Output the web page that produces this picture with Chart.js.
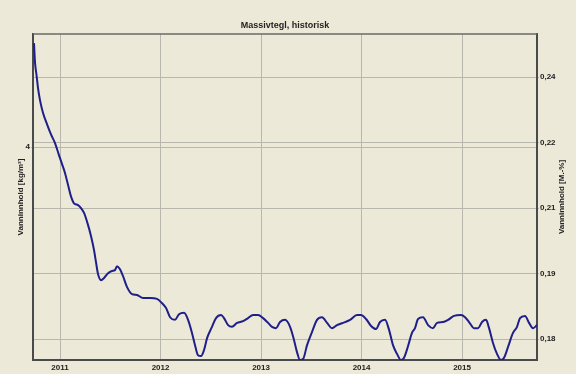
<!DOCTYPE html>
<html>
<head>
<meta charset="utf-8">
<title>Massivtegl, historisk</title>
<script src="https://cdn.jsdelivr.net/npm/chart.js@4.4.1/dist/chart.umd.min.js"></script>
<style>
    html, body { margin: 0; padding: 0; background: #ECE9D8; }
    #wrap { width: 576px; height: 374px; position: relative; }
</style>
</head>
<body>
<div id="wrap"><canvas id="moisture-chart"></canvas></div>
<script>
// Time in decimal years, moisture content in mass-%
const timeAxis = [
    2010.741, 2010.751, 2010.766, 2010.781, 2010.801, 2010.831, 2010.871, 2010.910, 2010.950, 2010.990,
    2011.020, 2011.050, 2011.080, 2011.109, 2011.139, 2011.179, 2011.209, 2011.239, 2011.279, 2011.308,
    2011.338, 2011.358, 2011.378, 2011.408, 2011.438, 2011.478, 2011.517, 2011.547, 2011.567, 2011.597,
    2011.627, 2011.667, 2011.716, 2011.766, 2011.826, 2011.896, 2011.965, 2012.015, 2012.055, 2012.095,
    2012.144, 2012.184, 2012.234, 2012.274, 2012.313, 2012.343, 2012.373, 2012.403, 2012.433, 2012.463,
    2012.512, 2012.552, 2012.602, 2012.632, 2012.672, 2012.711, 2012.761, 2012.821, 2012.871, 2012.920,
    2012.970, 2013.020, 2013.070, 2013.109, 2013.149, 2013.189, 2013.239, 2013.289, 2013.328, 2013.358,
    2013.388, 2013.418, 2013.458, 2013.507, 2013.557, 2013.607, 2013.657, 2013.706, 2013.756, 2013.816,
    2013.886, 2013.955, 2013.995, 2014.045, 2014.095, 2014.144, 2014.184, 2014.234, 2014.274, 2014.313,
    2014.353, 2014.393, 2014.423, 2014.463, 2014.502, 2014.532, 2014.562, 2014.612, 2014.662, 2014.711,
    2014.751, 2014.811, 2014.861, 2014.920, 2014.990, 2015.030, 2015.070, 2015.119, 2015.159, 2015.199,
    2015.239, 2015.269, 2015.308, 2015.348, 2015.388, 2015.418, 2015.458, 2015.507, 2015.547, 2015.577,
    2015.627, 2015.667, 2015.706, 2015.746
];

const moisture = [
    0.2503, 0.2459, 0.2430, 0.2400, 0.2372, 0.2343, 0.2317, 0.2294, 0.2274, 0.2246,
    0.2226, 0.2205, 0.2178, 0.2152, 0.2136, 0.2132, 0.2125, 0.2114, 0.2086, 0.2061,
    0.2029, 0.2001, 0.1974, 0.1960, 0.1965, 0.1976, 0.1981, 0.1983, 0.1992, 0.1985,
    0.1969, 0.1944, 0.1928, 0.1926, 0.1919, 0.1919, 0.1917, 0.1907, 0.1896, 0.1875,
    0.1869, 0.1882, 0.1885, 0.1869, 0.1839, 0.1811, 0.1788, 0.1786, 0.1800, 0.1827,
    0.1853, 0.1873, 0.1880, 0.1873, 0.1857, 0.1853, 0.1862, 0.1866, 0.1873, 0.1880,
    0.1880, 0.1873, 0.1862, 0.1853, 0.1850, 0.1864, 0.1869, 0.1853, 0.1823, 0.1795,
    0.1777, 0.1779, 0.1811, 0.1841, 0.1869, 0.1875, 0.1862, 0.1850, 0.1857, 0.1862,
    0.1869, 0.1880, 0.1880, 0.1871, 0.1855, 0.1848, 0.1864, 0.1869, 0.1846, 0.1811,
    0.1791, 0.1777, 0.1782, 0.1809, 0.1839, 0.1850, 0.1871, 0.1875, 0.1857, 0.1850,
    0.1862, 0.1864, 0.1869, 0.1878, 0.1880, 0.1875, 0.1864, 0.1850, 0.1850, 0.1864,
    0.1869, 0.1850, 0.1816, 0.1791, 0.1777, 0.1782, 0.1807, 0.1839, 0.1853, 0.1873,
    0.1878, 0.1862, 0.1850, 0.1857
];

const yearTicks = [2011, 2012, 2013, 2014, 2015];
const timeRange = [2010.731, 2015.746];

// Right axis: mass-%, labels are truncated to two decimals
const massTickValues = [0.1825, 0.1975, 0.2125, 0.2275, 0.2425];
const massTickLabels = ['0,18', '0,19', '0,21', '0,22', '0,24'];
const massRange = [0.1777, 0.2524];

// Left axis: kg/m3
const volumeTickValues = [4];
const volumeTickLabels = ['4'];
const kgPerMassPercent = 17.66;

const colors = {
    background: '#ECE9D8',
    line: '#1f1f8a',
    grid: '#b8b7ad',
    axis: '#4a4a4a',
    text: '#222222'
};

const tickFont = { family: 'Liberation Sans', size: 8, weight: 'bold' };

// Plot area edges in canvas pixels
const plotBox = { left: 33, top: 34, right: 537, bottom: 360 };

const backgroundPlugin = {
    id: 'background',
    beforeDraw(chart) {
        const ctx = chart.ctx;
        ctx.save();
        ctx.fillStyle = colors.background;
        ctx.fillRect(0, 0, chart.width, chart.height);
        ctx.restore();
    }
};

// Title, both rotated axis titles and the top frame line
const framePlugin = {
    id: 'frame',
    afterDraw(chart) {
        const ctx = chart.ctx;
        const area = chart.chartArea;
        const midY = (area.top + area.bottom) / 2;
        ctx.save();
        ctx.fillStyle = colors.text;
        ctx.textAlign = 'center';
        ctx.textBaseline = 'middle';

        ctx.font = 'bold 9px "Liberation Sans"';
        ctx.fillText('Massivtegl, historisk', (area.left + area.right) / 2, 26);

        ctx.font = 'bold 8px "Liberation Sans"';
        ctx.translate(21, midY);
        ctx.rotate(-Math.PI / 2);
        ctx.fillText('Vanninnhold [kg/m³]', 0, 0);
        ctx.setTransform(1, 0, 0, 1, 0, 0);

        ctx.translate(562, midY);
        ctx.rotate(-Math.PI / 2);
        ctx.fillText('Vanninnhold [M.-%]', 0, 0);
        ctx.setTransform(1, 0, 0, 1, 0, 0);

        ctx.strokeStyle = '#6a6a6a';
        ctx.lineWidth = 1.5;
        ctx.beginPath();
        ctx.moveTo(area.left, area.top);
        ctx.lineTo(area.right, area.top);
        ctx.stroke();
        ctx.restore();
    }
};

function fixedTicks(values) {
    return function(scale) {
        scale.ticks = values.map(v => ({ value: v }));
    };
}

function createMoistureChart(ctx) {
    return new Chart(ctx, {
        type: 'line',
        data: {
            datasets: [{
                label: 'Vanninnhold',
                data: timeAxis.map((t, i) => ({ x: t, y: moisture[i] })),
                yAxisID: 'y',
                borderColor: colors.line,
                borderWidth: 2,
                pointRadius: 0,
                cubicInterpolationMode: 'monotone',
                fill: false
            }]
        },
        options: {
            responsive: true,
            maintainAspectRatio: false,
            animation: false,
            layout: {
                padding: { top: plotBox.top, left: 0, right: 0, bottom: 0 }
            },
            plugins: {
                legend: { display: false },
                tooltip: { enabled: false }
            },
            scales: {
                x: {
                    type: 'linear',
                    min: timeRange[0],
                    max: timeRange[1],
                    afterBuildTicks: fixedTicks(yearTicks),
                    afterFit(scale) { scale.height = 374 - plotBox.bottom; },
                    border: { color: colors.axis, width: 2 },
                    grid: { color: colors.grid, lineWidth: 1, drawTicks: false },
                    ticks: {
                        color: colors.text,
                        font: tickFont,
                        padding: 3,
                        maxRotation: 0,
                        callback: value => String(value)
                    }
                },
                yLeft: {
                    type: 'linear',
                    position: 'left',
                    min: massRange[0] * kgPerMassPercent,
                    max: massRange[1] * kgPerMassPercent,
                    afterBuildTicks: fixedTicks(volumeTickValues),
                    afterFit(scale) { scale.width = plotBox.left; },
                    border: { color: colors.axis, width: 2 },
                    grid: { color: colors.grid, lineWidth: 1, tickLength: 2 },
                    ticks: {
                        color: colors.text,
                        font: tickFont,
                        padding: 1,
                        callback: (value, index) => volumeTickLabels[index]
                    }
                },
                y: {
                    type: 'linear',
                    position: 'right',
                    min: massRange[0],
                    max: massRange[1],
                    afterBuildTicks: fixedTicks(massTickValues),
                    afterFit(scale) { scale.width = 576 - plotBox.right; },
                    border: { color: colors.axis, width: 2 },
                    grid: { color: colors.grid, lineWidth: 1, tickLength: 2 },
                    ticks: {
                        color: colors.text,
                        font: tickFont,
                        padding: 1,
                        callback: (value, index) => massTickLabels[index]
                    }
                }
            }
        },
        plugins: [backgroundPlugin, framePlugin]
    });
}

document.addEventListener('DOMContentLoaded', () => {
    createMoistureChart(document.getElementById('moisture-chart'));
});
</script>
</body>
</html>
